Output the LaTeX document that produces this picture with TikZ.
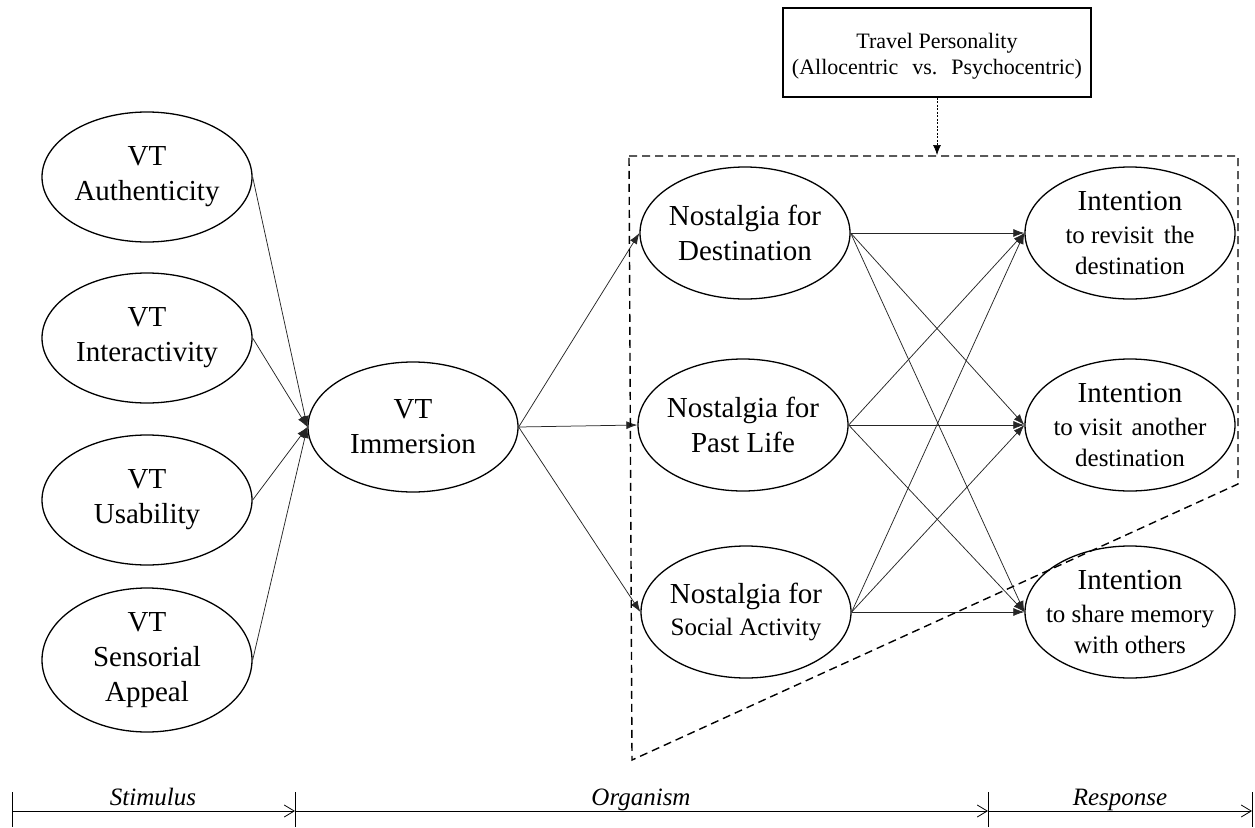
\documentclass[tikz,border=0pt]{standalone}
\usepackage{fontspec}
\setmainfont{Liberation Serif}
\usetikzlibrary{shapes.geometric,arrows.meta}
\begin{document}
\begin{tikzpicture}[x=1pt,y=-1pt,
  ell/.style={ellipse,draw,line width=1.3pt,minimum width=210pt,minimum height=130pt,inner sep=0pt},
  lbl/.style={align=center,font=\fontsize{29}{35}\selectfont,inner sep=0pt},
  conn/.style={draw=black!85,line width=0.75pt,-{Latex[length=11pt,width=8pt]}},
  dbox/.style={draw,line width=1.4pt,dash pattern=on 8pt off 5pt},
  dotarrow/.style={draw,line width=0.7pt,dash pattern=on 2pt off 1.5pt,-{Latex[length=10pt,width=8pt]}},
  axisseg/.style={draw,line width=0.8pt,-{Straight Barb[length=10pt,width=12pt,line width=0.8pt]}},
  tick/.style={draw,line width=0.8pt},
  axlbl/.style={font=\itshape\fontsize{25}{30}\selectfont,anchor=base,inner sep=0pt}]
\useasboundingbox (0,0) rectangle (1255,827);

% left column
\node[ell] (auth) at (147,177) {};
\node[lbl] (authT) at (auth) {VT\\Authenticity};
\node[ell] (inter) at (147,338) {};
\node[lbl] (interT) at (inter) {VT\\Interactivity};
\node[ell] (usab) at (147,500) {};
\node[lbl] (usabT) at (usab) {VT\\Usability};
\node[ell,minimum height=144pt] (sens) at (147,660) {};
\node[lbl] (sensT) at (sens) {VT\\Sensorial\\Appeal};

% immersion
\node[ell] (imm) at (413,427) {};
\node[lbl] (immT) at (imm) {VT\\Immersion};

% nostalgia
\node[ell,minimum height=132pt] (nd) at (745,233) {};
\node[lbl] (ndT) at (nd) {Nostalgia for\\Destination};
\node[ell,minimum height=132pt] (np) at (743,425) {};
\node[lbl] (npT) at (np) {Nostalgia for\\Past Life};
\node[ell,minimum height=132pt] (ns) at (746,612) {};
\node[lbl] (nsT) at (ns) {Nostalgia for\\[-3pt]{\fontsize{25}{30}\selectfont Social Activity}};

% intentions
\node[ell,minimum height=132pt] (ir) at (1130,233) {};
\node[lbl] (irT) at (ir.center) {Intention\\[-2pt]{\fontsize{25}{30}\selectfont to revisit\hspace{4pt} the}\\[-4pt]{\fontsize{25}{30}\selectfont destination}};
\node[ell,minimum height=132pt] (iv) at (1130,425) {};
\node[lbl] (ivT) at (iv.center) {Intention\\[-2pt]{\fontsize{25}{30}\selectfont to visit\hspace{3pt} another}\\[-4pt]{\fontsize{25}{30}\selectfont destination}};
\node[ell,minimum height=132pt] (is) at (1130,612) {};
\node[lbl] (isT) at (is.center) {Intention\\[-2pt]{\fontsize{25}{30}\selectfont to share memory}\\[-4pt]{\fontsize{25}{30}\selectfont with others}};

% connectors
\foreach \s in {auth,inter,usab,sens} \draw[conn] (\s.east) -- (imm.west);
\foreach \t in {nd,np,ns} \draw[conn] (imm.east) -- (\t.west);
\foreach \s in {nd,np,ns} \foreach \t in {ir,iv,is} \draw[conn] (\s.east) -- (\t.west);

% dashed moderator region
\draw[dbox] (629,156) -- (1238,156) -- (1238,484) -- (632,760) -- cycle;

% travel personality
\node[draw,line width=1.3pt,minimum width=308pt,minimum height=89pt,inner sep=0pt] (tp) at (937,52.5) {};
\node[align=center,font=\fontsize{22}{26}\selectfont,inner sep=0pt] (tpT) at ([yshift=-4pt]tp.center)
      {Travel Personality\\(Allocentric\hspace{14pt}vs.\hspace{14pt}Psychocentric)};
\coordinate (tpend) at (937,155);
\draw[dotarrow] (tp.south) -- (tpend);

% axis
\coordinate (a0) at (12,811);
\coordinate (a1) at (295,811);
\coordinate (a2) at (988,811);
\coordinate (a3) at (1252,811);
\draw[axisseg] (a0) -- (a1);
\draw[axisseg] (a1) -- (a2);
\draw[axisseg] (a2) -- (a3);
\foreach \x in {12,295,988,1252} \draw[tick] (\x,792) -- (\x,827);
\node[axlbl] (stim) at (153,805) {Stimulus};
\node[axlbl] (org) at (641,805) {Organism};
\node[axlbl] (resp) at (1120,805) {Response};
\end{tikzpicture}
\end{document}
